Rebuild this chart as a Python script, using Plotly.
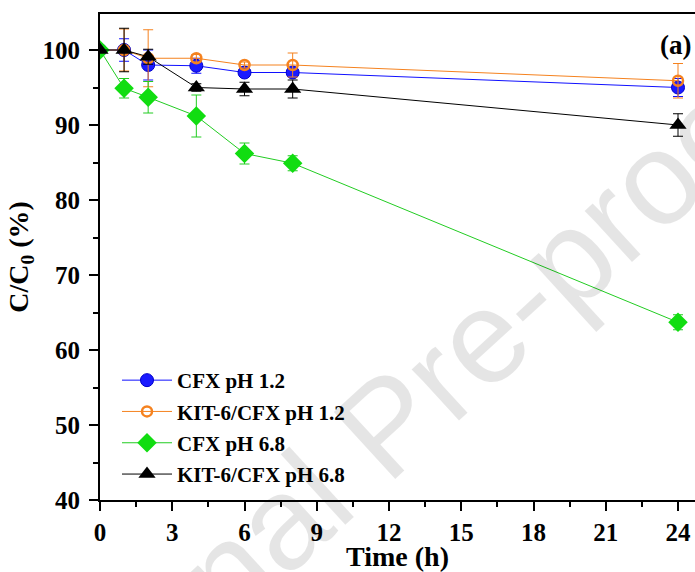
import plotly.graph_objects as go

# Release time points (h)
time_h = [0, 1, 2, 4, 6, 8, 24]

# Remaining drug C/C0 (%) and standard deviations for each formulation
cfx_ph12 = [100, 100, 98.0, 97.9, 97.0, 97.0, 95.0]
cfx_ph12_sd = [0, 1.5, 2.0, 1.0, 0.5, 0.5, 1.2]

kit_ph12 = [100, 100, 98.9, 98.9, 98.0, 98.0, 95.9]
kit_ph12_sd = [0, 2.8, 3.8, 0.5, 0.4, 1.6, 2.3]

cfx_ph68 = [100, 94.9, 93.7, 91.2, 86.2, 84.9, 63.7]
cfx_ph68_sd = [0, 1.3, 2.1, 2.8, 1.4, 1.0, 1.0]

kit_ph68 = [100, 100, 99.1, 95.0, 94.8, 94.8, 90.0]
kit_ph68_sd = [0, 2.9, 1.0, 0.5, 0.9, 1.2, 1.5]

series_names = ["CFX pH 1.2", "KIT-6/CFX pH 1.2", "CFX pH 6.8", "KIT-6/CFX pH 6.8"]

x_ticks = [0, 3, 6, 9, 12, 15, 18, 21, 24]
y_ticks = [40, 50, 60, 70, 80, 90, 100]

FONT = "Liberation Serif"

fig = go.Figure()

styles = [
    (cfx_ph12, cfx_ph12_sd, "#1010ff", dict(symbol="circle", size=13, color="#1a1aff",
                                            line=dict(color="#0000cc", width=1))),
    (kit_ph12, kit_ph12_sd, "#f5821f", dict(symbol="circle-open", size=10, color="#f5821f",
                                            line=dict(color="#f5821f", width=2.5))),
    (cfx_ph68, cfx_ph68_sd, "#22cc22", dict(symbol="diamond", size=15, color="#11dd11",
                                            line=dict(color="#11dd11", width=0))),
    (kit_ph68, kit_ph68_sd, "#000000", dict(symbol="triangle-up", size=15, color="#000000",
                                            line=dict(color="#000000", width=0))),
]

for i, (vals, sd, col, mk) in enumerate(styles):
    fig.add_trace(go.Scatter(
        x=time_h, y=vals, name=f"<b>{series_names[i]}</b>", mode="lines+markers",
        line=dict(color=col, width=1),
        marker=mk,
        error_y=dict(type="data", array=sd, visible=True, color=col, thickness=1, width=5),
        legendgroup=f"g{i}",
    ))

# Plot-area geometry in pixels (used to place annotations)
L, R, T, B = 100, 695, 14, 500


def px(xp, yp):
    return (xp - L) / (R - L), (B - yp) / (B - T)


ax, ay = px(693, 45)
fig.add_annotation(x=ax, y=ay, xref="paper", yref="paper", text="<b>(a)</b>",
                   showarrow=False, xanchor="right", yanchor="middle",
                   font=dict(family=FONT, size=27, color="black"))

wx, wy = px(386, 425)
fig.add_annotation(x=wx, y=wy, xref="paper", yref="paper", text="Journal Pre-proof",
                   showarrow=False, textangle=-42.5, xanchor="center", yanchor="middle",
                   font=dict(family="Liberation Sans", size=132, color="rgba(0,0,0,0.10)"))

lx, ly = px(117, 495)
fig.update_layout(
    width=695, height=572,
    margin=dict(l=L, r=0, t=T, b=572 - B),
    paper_bgcolor="white", plot_bgcolor="white",
    font=dict(family=FONT, color="black"),
    showlegend=True,
    legend=dict(x=lx, y=ly, xanchor="left", yanchor="bottom",
                bgcolor="rgba(0,0,0,0)", font=dict(family=FONT, size=21),
                traceorder="grouped", tracegroupgap=1, itemwidth=50),
)

fig.update_xaxes(
    range=[0, 24.706], tickmode="array", tickvals=x_ticks,
    ticktext=[f"<b>{v}</b>" for v in x_ticks],
    ticks="outside", ticklen=9, tickwidth=2, tickcolor="black",
    minor=dict(dtick=1.5, tick0=0, ticks="outside", ticklen=5, tickwidth=2, tickcolor="black"),
    showline=True, linecolor="black", linewidth=2, mirror=True,
    showgrid=False, zeroline=False,
    tickfont=dict(family=FONT, size=25),
    title=dict(text="<b>Time (h)</b>", font=dict(family=FONT, size=28), standoff=2),
)

fig.update_yaxes(
    range=[40, 104.8], tickmode="array", tickvals=y_ticks,
    ticktext=[f"<b>{v}</b>" for v in y_ticks],
    ticks="outside", ticklen=9, tickwidth=2, tickcolor="black",
    minor=dict(dtick=5, tick0=40, ticks="outside", ticklen=5, tickwidth=2, tickcolor="black"),
    showline=True, linecolor="black", linewidth=2,
    showgrid=False, zeroline=False,
    tickfont=dict(family=FONT, size=25), ticklabelstandoff=4,
    title=dict(text="<b>C/C<sub>0</sub> (%)</b>", font=dict(family=FONT, size=28), standoff=6),
)

fig.write_html("out.html")
